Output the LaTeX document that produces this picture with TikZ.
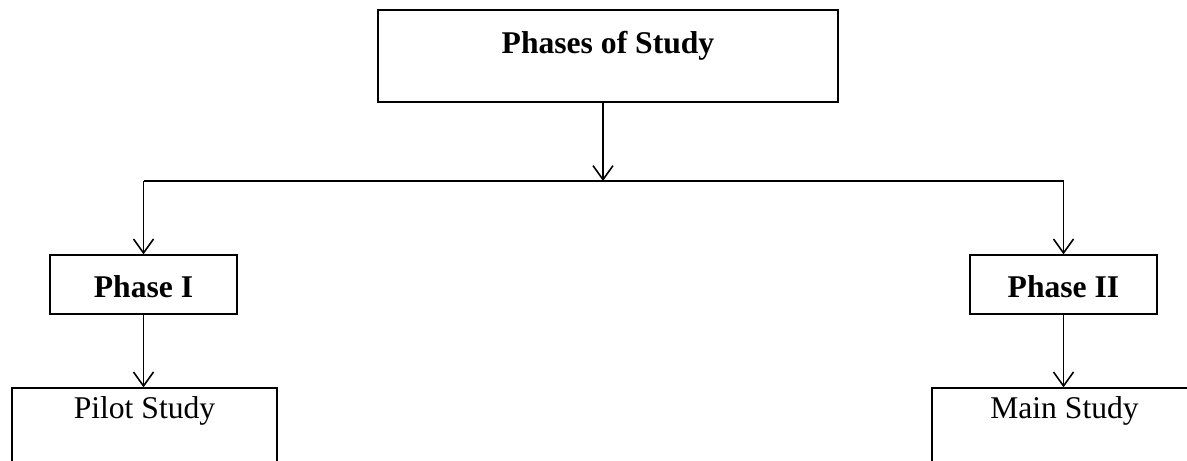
\documentclass[tikz,border=0pt]{standalone}
\usepackage{fontspec}
\setmainfont{Liberation Serif}
\usetikzlibrary{arrows.meta}

\begin{document}
\begin{tikzpicture}[x=0.02cm, y=-0.02cm,
    font=\fontsize{18}{22}\selectfont,
    box/.style={draw, line width=0.75pt, inner ysep=0pt, inner xsep=0pt},
    arr/.style={line width=1pt, -{Straight Barb[length=0.28cm, width=0.4cm, line width=0.9pt]}}]
    \useasboundingbox (0,0) rectangle (1187,460) ;
    \clip (0,0) rectangle (1187,460) ;

    \node [box, minimum width=9.2cm, text height=0.86cm, text depth=0.98cm] (study) at (608,56) {\textbf{Phases of Study}} ;

    \node [box, minimum width=3.74cm, text height=0.84cm, text depth=0.34cm] (phase1) at (143.5,284.5) {\textbf{Phase I}} ;
    \node [box, minimum width=3.74cm, text height=0.84cm, text depth=0.34cm] (phase2) at (1063.5,284.5) {\textbf{Phase II}} ;

    \node [box, minimum width=5.3cm, text height=0.6cm, text depth=1.4cm] (pilot) at (144.5,438) {Pilot Study} ;
    \node [box, minimum width=5.3cm, text height=0.6cm, text depth=1.4cm] (main) at (1064.5,438) {Main Study} ;

    \coordinate (split) at (603,181) ;
    \draw [arr] (study.south -| split) -- (split) ;
    \draw [line width=1pt] (phase1.north |- split) -- (phase2.north |- split) ;
    \draw [arr] (phase1.north |- split) -- (phase1.north) ;
    \draw [arr] (phase2.north |- split) -- (phase2.north) ;

    \draw [arr] (phase1.south) -- (phase1.south |- pilot.north) ;
    \draw [arr] (phase2.south) -- (phase2.south |- main.north) ;
\end{tikzpicture}
\end{document}
